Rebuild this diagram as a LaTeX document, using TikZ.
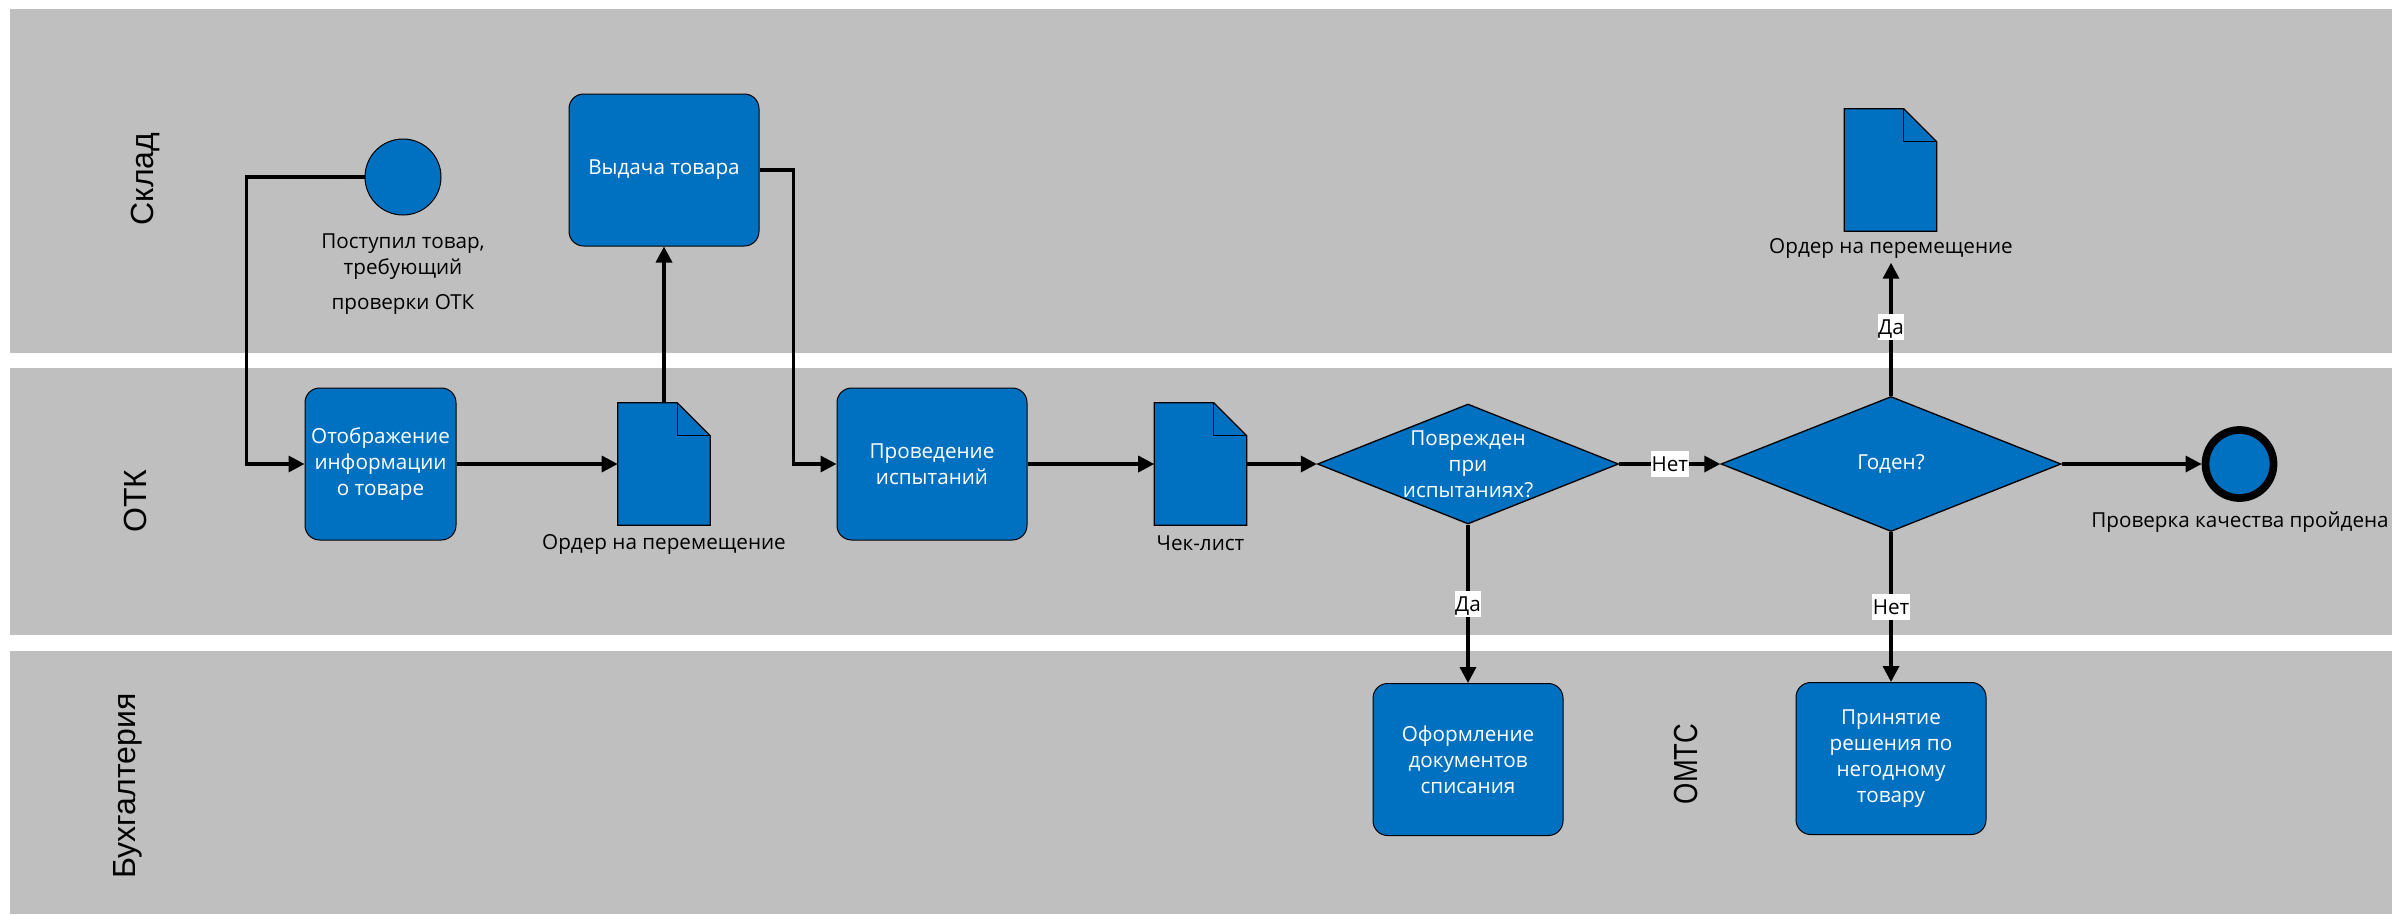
\documentclass[tikz,border=0pt]{standalone}
\usepackage{fontspec}
\setmainfont{Open Sans}
\newfontfamily\lanefont{Liberation Sans}
\newfontfamily\lanenarrow[FakeStretch=0.82]{Liberation Sans}
\usetikzlibrary{arrows.meta,shapes.geometric,calc}

\definecolor{laneGray}{RGB}{191,191,191}
\definecolor{boxBlue}{RGB}{0,112,192}
\newcommand{\boxfont}{\fontsize{15.5pt}{19.5pt}\selectfont}

% folded sheet drawn round a docsheet node
\newcommand{\drawsheet}[1]{%
	\draw [fill=boxBlue, line width=0.9pt] (#1.north west) -- ($(#1.north east)+(-33,0)$) -- ($(#1.north east)+(0,33)$) -- (#1.south east) -- (#1.south west) -- cycle ;
	\draw [line width=0.9pt] ($(#1.north east)+(-33,0)$) -- ($(#1.north east)+(-33,33)$) -- ($(#1.north east)+(0,33)$) ;
}

\tikzset{
	lane/.style={fill=laneGray, draw=none},
	lanelabel/.style={font=\lanefont\fontsize{24pt}{28pt}\selectfont, inner sep=0pt, rotate=90},
	task/.style={rectangle, rounded corners=11pt, draw=black, line width=0.75pt, fill=boxBlue, text=white, align=center, minimum width=142.5pt, minimum height=114pt, inner sep=0pt, font=\boxfont},
	decision/.style={diamond, draw=black, line width=1pt, fill=boxBlue, inner sep=0pt},
	docsheet/.style={rectangle, minimum width=69pt, minimum height=91.5pt, inner sep=0pt},
	event/.style={circle, draw=black, fill=boxBlue, inner sep=0pt},
	caption/.style={font=\boxfont, text=black, align=center, inner sep=0pt},
	boxtext/.style={font=\boxfont, text=white, align=center, inner sep=0pt},
	answer/.style={fill=white, font=\boxfont, text=black, inner xsep=0.5pt, inner ysep=0.4pt, text height=15pt, text depth=3.75pt},
	flow/.style={line width=2.5pt, -{Triangle[length=12pt,width=12pt]}}}

\begin{document}
\begin{tikzpicture}[x=0.75pt,y=0.75pt,yscale=-1,xscale=1]
	\path [use as bounding box, fill=white] (0,0) rectangle (2392,914);

	%Shape: Lanes
	\fill [lane] (10,9) rectangle (2392,353);
	\fill [lane] (10,368) rectangle (2392,635);
	\fill [lane] (10,651) rectangle (2392,914);

	% Text Node: lane names
	\node [lanelabel] (laneStore) at (146,179) {Склад};
	\node [lanelabel] (laneQC) at (135,501) {ОТК};
	\node [lanelabel] (laneAcc) at (127.5,786) {Бухгалтерия};
	\node [inner sep=0pt, rotate=90, font=\lanenarrow\fontsize{25pt}{28pt}\selectfont] (laneSupply) at (1686.5,764) {ОМТС};

	%Shape: Events
	\node [event, minimum size=57pt, line width=0.75pt] (start) at (403,177) {};
	\node [event, minimum size=51pt, line width=5.8pt] (finish) at (2239.5,464) {};

	%Shape: Tasks
	\node [task, minimum width=113.25pt] (info) at (380.5,464) {Отображение\\информации\\о товаре};
	\node [task] (issue) at (664,170) {Выдача товара};
	\node [task] (test) at (932,464) {Проведение\\испытаний};
	\node [task] (writeoff) at (1468,759.5) {Оформление\\документов\\списания};
	\node [task] (decide) at (1891,758.5) {Принятие\\решения по\\негодному\\товару};

	%Shape: Documents
	\node [docsheet] (order) at (664,464) {};
	\drawsheet{order}
	\node [docsheet] (check) at (1200.5,464) {};
	\drawsheet{check}
	\node [docsheet] (move) at (1890.5,170) {};
	\drawsheet{move}

	%Shape: Gateways
	\node [decision, minimum width=225.75pt, minimum height=90pt] (damaged) at (1468,464) {};
	\node [boxtext] (damagedText) at (damaged) {Поврежден\\при\\испытаниях?};
	\node [decision, minimum width=255pt, minimum height=101.25pt] (fit) at (1891,464) {};
	\node [boxtext] (fitText) at (fit) {Годен?};

	% Text Node
	\node [caption] (startLbl) at (403,274.5) {Поступил товар,\\требующий\\[6.75pt]проверки ОТК};
	\node [caption] (orderLbl) at (664,544) {Ордер на перемещение};
	\node [caption] (checkLbl) at (1200.5,543) {Чек-лист};
	\node [caption] (moveLbl) at (1891,248.5) {Ордер на перемещение};
	\node [caption] (finishLbl) at (2240,522) {Проверка качества пройдена};

	%Straight Lines: sequence flows
	\draw [flow] (start.west) -- ++(-118,0) |- (info.west);
	\draw [flow] (info.east) -- (order.west);
	\draw [flow] (order.north) -- (issue.south);
	\draw [flow] (issue.east) -- ++(34,0) |- (test.west);
	\draw [flow] (test.east) -- (check.west);
	\draw [flow] (check.east) -- (damaged.west);
	\draw [flow] (damaged.south) -- node [answer] (yesA) {Да} (writeoff.north);
	\draw [flow] (damaged.east) -- node [answer] (noA) {Нет} (fit.west);
	\draw [flow, shorten >=3pt] (fit.north) -- node [answer] (yesB) {Да} (moveLbl.south);
	\draw [flow] (fit.south) -- node [answer] (noB) {Нет} (decide.north);
	\draw [flow] (fit.east) -- (finish.west);

\end{tikzpicture}
\end{document}
